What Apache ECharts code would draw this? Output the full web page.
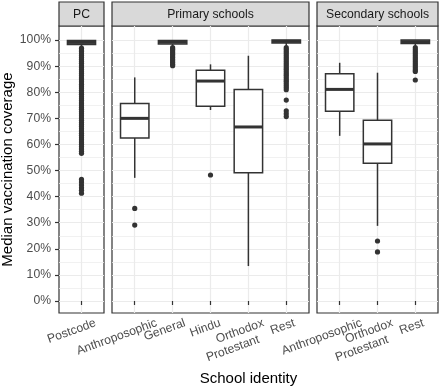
<!DOCTYPE html>
<html>
<head>
<meta charset="utf-8">
<script src="https://cdn.jsdelivr.net/npm/echarts@6/dist/echarts.min.js"></script>
<style>
  html, body { margin: 0; padding: 0; background: #fff; }
  #main { width: 440px; height: 389px; }
</style>
</head>
<body>
<div id="main"></div>
<script>
// facet titles
var facetNames = ['PC', 'Primary schools', 'Secondary schools'];

// categories per facet
var pcCats = ['Postcode'];
var primaryCats = ['Anthroposophic', 'General', 'Hindu', 'Orthodox\nProtestant', 'Rest'];
var secondaryCats = ['Anthroposophic', 'Orthodox\nProtestant', 'Rest'];

// box stats: [lower whisker, Q1, median, Q3, upper whisker]
var pcStats = [[97.0, 98.3, 99.1, 99.8, 100]];
var primaryStats = [
    [47.2, 62.5, 70.0, 75.7, 85.7],
    [97.3, 98.5, 99.2, 99.8, 100],
    [73.2, 74.6, 84.3, 88.4, 90.7],
    [13.4, 49.2, 66.7, 81.1, 94.0],
    [97.3, 98.9, 99.5, 100, 100]
];
var secondaryStats = [
    [63.3, 72.7, 81.1, 87.1, 91.3],
    [28.8, 52.8, 60.2, 69.3, 87.5],
    [97.5, 98.7, 99.4, 100, 100]
];

// outliers per category
var pcOutliers = [
    [96.9, 96.2, 95.6, 94.8, 94.1, 93.3, 92.6, 91.8, 91.1, 90.2, 89.5, 88.7, 87.9, 87.2, 86.4, 85.5,
     84.8, 84.0, 83.1, 82.4, 81.6, 80.7, 79.9, 79.2, 78.3, 77.5, 76.8, 75.9, 75.1, 74.2, 73.5, 72.6,
     71.8, 71.0, 70.1, 69.3, 68.4, 67.6, 66.9, 66.0, 65.2, 64.3, 63.5, 62.6, 61.8, 60.9, 60.1, 59.2,
     58.3, 57.4, 56.6, 46.6, 45.6, 44.5, 43.4, 42.4, 41.3]
];
var primaryOutliers = [
    [35.5, 29.1],
    [97.1, 96.5, 95.9, 95.2, 94.6, 93.9, 93.3, 92.6, 92.0, 91.4, 90.7, 90.2],
    [48.3],
    [],
    [97.1, 96.4, 95.6, 94.9, 94.1, 93.3, 92.6, 91.8, 91.0, 90.3, 89.5, 88.8, 88.0, 87.2, 86.5, 85.7,
     84.9, 84.2, 83.4, 82.6, 81.8, 81.0, 77.0, 72.9, 71.8, 70.7]
];
var secondaryOutliers = [
    [],
    [23.0, 18.8],
    [97.1, 96.3, 95.5, 94.8, 94.0, 93.2, 92.5, 91.7, 90.9, 90.2, 89.4, 88.6, 88.0, 84.7]
];

// y ticks
var yMajor = [0, 10, 20, 30, 40, 50, 60, 70, 80, 90, 100];
var yMinor = [5, 15, 25, 35, 45, 55, 65, 75, 85, 95];

var facetCats = [pcCats, primaryCats, secondaryCats];
var facetStats = [pcStats, primaryStats, secondaryStats];
var facetOutliers = [pcOutliers, primaryOutliers, secondaryOutliers];

// panel layout (px)
var panelLeft = [59, 112, 317];
var panelWidth = [45, 197, 121];
var panelTop = 26, panelHeight = 287, stripTop = 2;

var FONT = '"Liberation Sans", Arial, sans-serif';
var TICK_SIZE = 12.2;
var ctx = document.createElement('canvas').getContext('2d');
ctx.font = TICK_SIZE + 'px "Liberation Sans"';

// ggplot-like hjust: shift each rotated label to the right of its tick
function labelPositions(cats, unitPx) {
    return cats.map(function (c, i) {
        var w = Math.max.apply(null, c.split('\n').map(function (s) { return ctx.measureText(s).width; }));
        return i + 1 + 0.23 * w / unitPx;
    });
}

// second line pulled back so both lines end at about the same x after rotation
function labelText(name) {
    var lines = name.split('\n');
    if (lines.length < 2) return name;
    return lines[0] + '\n{p|' + lines[1] + '}';
}

function renderBox(params, api) {
    var x = api.value(0);
    var lo = api.coord([x, api.value(1)]);
    var q1 = api.coord([x, api.value(2)]);
    var md = api.coord([x, api.value(3)]);
    var q3 = api.coord([x, api.value(4)]);
    var hi = api.coord([x, api.value(5)]);
    var half = api.size([0.75, 0])[0] / 2;
    var st = {stroke: '#333333', lineWidth: 1.5, fill: null};
    return {
        type: 'group',
        children: [
            {type: 'line', shape: {x1: hi[0], y1: hi[1], x2: q3[0], y2: q3[1]}, style: st},
            {type: 'line', shape: {x1: q1[0], y1: q1[1], x2: lo[0], y2: lo[1]}, style: st},
            {type: 'rect', shape: {x: q3[0] - half, y: q3[1], width: 2 * half, height: q1[1] - q3[1]},
                style: {fill: '#ffffff', stroke: '#333333', lineWidth: 1.5}},
            {type: 'line', shape: {x1: md[0] - half, y1: md[1], x2: md[0] + half, y2: md[1]},
                style: {stroke: '#333333', lineWidth: 3}}
        ]
    };
}

var grids = [], xAxes = [], yAxes = [], series = [], graphics = [];

facetCats.forEach(function (cats, f) {
    var n = cats.length;
    var unitPx = panelWidth[f] / (n + 0.2);
    var ticks = cats.map(function (c, i) { return i + 1; });
    var labelPos = labelPositions(cats, unitPx);
    // empty end labels so ECharts' min/max label check never hides a real one
    var labelVals = [0.4].concat(labelPos, [n + 0.6]);

    grids.push({
        left: panelLeft[f], top: panelTop, width: panelWidth[f], height: panelHeight,
        show: true, backgroundColor: '#ffffff', borderColor: '#333333', borderWidth: 1.2
    });

    xAxes.push({
        type: 'value', gridIndex: f, min: 0.4, max: n + 0.6,
        axisLine: {show: false},
        axisTick: {show: true, length: 4, customValues: ticks, lineStyle: {color: '#333333', width: 1.2}},
        axisLabel: {
            customValues: labelVals,
            formatter: function (v) {
                for (var i = 0; i < labelPos.length; i++) {
                    if (Math.abs(v - labelPos[i]) < 1e-6) return labelText(cats[i]);
                }
                return '';
            },
            rotate: 20, align: 'right', verticalAlign: 'top', margin: 3,
            showMinLabel: false, showMaxLabel: false, hideOverlap: false,
            color: '#4D4D4D', fontSize: TICK_SIZE, fontFamily: FONT, lineHeight: 14,
            rich: {
                p: {padding: [0, 10, 0, 0], color: '#4D4D4D', fontSize: TICK_SIZE,
                    fontFamily: FONT, lineHeight: 14}
            }
        },
        splitLine: {show: true, lineStyle: {color: '#EBEBEB', width: 1.2}}
    });

    // major y axis
    yAxes.push({
        type: 'value', gridIndex: f, min: -4.6, max: 105.4,
        axisLine: {show: false},
        axisTick: {show: f === 0, length: 4, customValues: yMajor, lineStyle: {color: '#333333', width: 1.2}},
        axisLabel: {
            show: f === 0, customValues: yMajor, formatter: '{value}%', margin: 8,
            color: '#4D4D4D', fontSize: TICK_SIZE, fontFamily: FONT
        },
        splitLine: {show: true, lineStyle: {color: '#EBEBEB', width: 1.2}}
    });
    // minor grid lines
    yAxes.push({
        type: 'value', gridIndex: f, min: -4.6, max: 105.4,
        axisLine: {show: false},
        axisTick: {show: false, customValues: yMinor},
        axisLabel: {show: false, customValues: yMinor},
        splitLine: {show: true, lineStyle: {color: '#EDEDED', width: 0.8}}
    });

    var boxData = facetStats[f].map(function (s, i) { return [i + 1].concat(s); });
    series.push({
        type: 'custom', xAxisIndex: f, yAxisIndex: 2 * f,
        renderItem: renderBox, encode: {x: 0, y: [1, 2, 3, 4, 5]},
        data: boxData, z: 3, silent: true
    });

    var outData = [];
    facetOutliers[f].forEach(function (vals, i) {
        vals.forEach(function (v) { outData.push([i + 1, v]); });
    });
    series.push({
        type: 'scatter', xAxisIndex: f, yAxisIndex: 2 * f,
        data: outData, symbolSize: 5.2, itemStyle: {color: '#333333', opacity: 1},
        z: 2, silent: true
    });

    // facet strip
    graphics.push({
        type: 'rect', shape: {x: panelLeft[f], y: stripTop, width: panelWidth[f], height: panelTop - stripTop},
        style: {fill: '#D9D9D9', stroke: '#333333', lineWidth: 1.2}
    });
    graphics.push({
        type: 'text', x: panelLeft[f] + panelWidth[f] / 2, y: (stripTop + panelTop) / 2 + 0.5,
        style: {text: facetNames[f], align: 'center', verticalAlign: 'middle',
            fill: '#1A1A1A', fontSize: TICK_SIZE, fontFamily: FONT}
    });
});

// axis titles
graphics.push({
    type: 'text', x: 8, y: (panelTop + panelTop + panelHeight) / 2, rotation: Math.PI / 2,
    style: {text: 'Median vaccination coverage', align: 'center', verticalAlign: 'middle',
        fill: '#000000', fontSize: 15, fontFamily: FONT}
});
graphics.push({
    type: 'text', x: (panelLeft[0] + panelLeft[2] + panelWidth[2]) / 2, y: 379,
    style: {text: 'School identity', align: 'center', verticalAlign: 'middle',
        fill: '#000000', fontSize: 15, fontFamily: FONT}
});

var myChart = echarts.init(document.getElementById('main'), null, {renderer: 'canvas'});
var option = {
    animation: false,
    backgroundColor: '#ffffff',
    grid: grids,
    xAxis: xAxes,
    yAxis: yAxes,
    series: series,
    graphic: graphics
};
myChart.setOption(option);
</script>
</body>
</html>
